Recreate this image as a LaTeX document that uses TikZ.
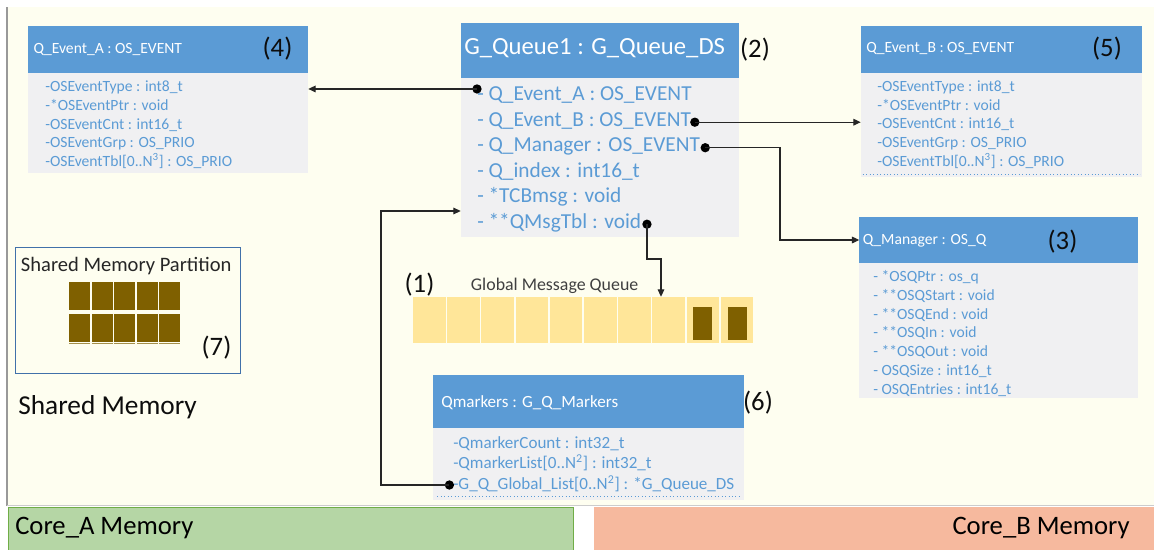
\documentclass[tikz,border=0pt]{standalone}
\usepackage{fontspec}
\setmainfont{Carlito}
\usetikzlibrary{arrows.meta, positioning}

\definecolor{umlblue}{RGB}{91,155,213}
\definecolor{umlgray}{RGB}{240,240,242}
\definecolor{cream}{RGB}{254,254,240}
\definecolor{slotyellow}{RGB}{255,230,153}
\definecolor{slotbrown}{RGB}{127,96,0}
\definecolor{partblue}{RGB}{65,113,170}
\definecolor{coreAgreen}{RGB}{181,214,165}
\definecolor{coreAedge}{RGB}{112,173,71}
\definecolor{coreBsalmon}{RGB}{246,185,158}

\begin{document}
\begin{tikzpicture}[x=0.75pt, y=-0.75pt,
  head/.style={fill=umlblue, inner sep=0, outer sep=0, anchor=north west},
  body/.style={fill=umlgray, inner sep=0, outer sep=0, anchor=north west},
  lbl/.style={inner sep=0, text height=0.64em, text depth=0pt},
  title/.style={lbl, anchor=west, text=white, font=\fontsize{11.7}{14}\selectfont},
  field/.style={lbl, anchor=west, text=umlblue, font=\fontsize{11.7}{14}\selectfont},
  tag/.style={inner sep=0, text=black!95, font=\fontsize{20}{24}\selectfont},
  dot/.style={circle, fill=black, inner sep=0, minimum size=7pt},
  link/.style={-{Triangle[length=5.5pt, width=5pt]}, line width=0.8pt, black!85},
  endline/.style={umlblue, dotted, line width=0.6pt},
  slot/.style={fill=slotyellow, inner sep=0, minimum width=24.4pt, minimum height=34.5pt},
  msg/.style={fill=slotbrown, inner sep=0, minimum width=14.25pt, minimum height=24.75pt},
  blk/.style={fill=slotbrown, inner sep=0, minimum width=15.75pt, minimum height=21pt}
]
\useasboundingbox (0,0) rectangle (1154,550);

% ground
\fill[cream] (7,7) rectangle (1154,505.5);
\draw[black!40, line width=0.8pt] (7,7) -- (7,506);
\draw[black!20, line width=0.8pt] (7,505.5) -- (1154,505.5);

% core memories
\node[fill=coreAgreen, draw=coreAedge, line width=0.6pt, inner sep=0, minimum width=423.75pt, minimum height=32.25pt, anchor=north west] (coreA) at (8,507) {};
\node[fill=coreBsalmon, inner sep=0, minimum width=420pt, minimum height=32.25pt, anchor=north west] (coreB) at (594,507) {};
\node[lbl, anchor=west, font=\fontsize{20}{24}\selectfont] (coreAt) at (15,530) {Core\_A Memory};
\node[lbl, anchor=east, font=\fontsize{20}{24}\selectfont] (coreBt) at (1130,530) {Core\_B Memory};

% shared memory partition (7)
\node[draw=partblue, line width=1pt, inner sep=0, minimum width=168.75pt, minimum height=94.5pt, anchor=north west] (smp) at (14.7,246.7) {};
\node[inner sep=0, text=black!85, font=\fontsize{15.4}{18}\selectfont] (smpt) at (126.2,266) {Shared Memory Partition};
\foreach \r/\y in {0/296,1/327.5}
  \foreach \c in {0,...,4}
    \node[blk] (blk\r\c) at ({79.8+22.5*\c},\y) {};
\foreach \c in {0,...,4}
  \node[blk, minimum height=1.1pt, fill=slotbrown!70] (blk2\c) at ({79.8+22.5*\c},343.6) {};
\node[tag] (smpn) at (216.5,348) {(7)};
\node[lbl, anchor=west, text=black!95, font=\fontsize{20.5}{24}\selectfont] (shm) at (18,410) {Shared Memory};

% Q_Event_A : OS_EVENT (4)
\node[head, minimum width=210pt, minimum height=35.25pt] (evAh) at (28.3,25.7) {};
\node[body, minimum width=210pt, minimum height=75.2pt] (evAb) at (evAh.south west) {};
\node[title] (evAt) at (33.3,49) {Q\_Event\_A : OS\_EVENT};
\node[tag] (evAn) at (277.5,49) {(4)};
\foreach \txt [count=\i] in {-OSEventType : int8\_t, -*OSEventPtr : void, -OSEventCnt : int16\_t,
    -OSEventGrp : OS\_PRIO, {-OSEventTbl[0..N\textsuperscript{3}] : OS\_PRIO}}
  \node[field] (evA\i) at (45,{68.5+18.8*\i}) {\txt};

% G_Queue1 : G_Queue_DS (2)
\node[head, minimum width=208.7pt, minimum height=41.25pt] (gqh) at (460.7,23.3) {};
\node[body, minimum width=208.7pt, minimum height=119.25pt] (gqb) at (gqh.south west) {};
\node[title, font=\fontsize{18.5}{22}\selectfont] (gqt) at (464,50) {G\_Queue1 : G\_Queue\_DS};
\node[tag] (gqn) at (755,50) {(2)};
\foreach \txt [count=\i] in {- Q\_Event\_A : OS\_EVENT, - Q\_Event\_B : OS\_EVENT, - Q\_Manager : OS\_EVENT,
    - Q\_index : int16\_t, - *TCBmsg : void, - **QMsgTbl : void}
  \node[field, font=\fontsize{16}{19}\selectfont] (gq\i) at (477,{71.2+25.5*\i}) {\txt};

% Q_Event_B : OS_EVENT (5)
\node[head, minimum width=211pt, minimum height=35.25pt] (evBh) at (860.7,25.7) {};
\node[body, minimum width=211pt, minimum height=78pt] (evBb) at (evBh.south west) {};
\node[title] (evBt) at (866,48.5) {Q\_Event\_B : OS\_EVENT};
\node[tag] (evBn) at (1107,49) {(5)};
\foreach \txt [count=\i] in {-OSEventType : int8\_t, -*OSEventPtr : void, -OSEventCnt : int16\_t,
    -OSEventGrp : OS\_PRIO, {-OSEventTbl[0..N\textsuperscript{3}] : OS\_PRIO}}
  \node[field] (evB\i) at (877,{68.6+18.7*\i}) {\txt};
\draw[endline] ([xshift=1.5pt, yshift=2pt]evBb.south west) -- ([xshift=-1.5pt, yshift=2pt]evBb.south east);

% Q_Manager : OS_Q (3)
\node[head, minimum width=209.25pt, minimum height=34.5pt] (mgh) at (859.3,217.3) {};
\node[body, minimum width=209.25pt, minimum height=101.25pt] (mgb) at (mgh.south west) {};
\node[title] (mgt) at (862.7,240) {Q\_Manager : OS\_Q};
\node[tag] (mgn) at (1062.5,241.7) {(3)};
\foreach \txt [count=\i] in {- *OSQPtr : os\_q, - **OSQStart : void, - **OSQEnd : void, - **OSQIn : void,
    - **OSQOut : void, - OSQSize : int16\_t, - OSQEntries : int16\_t}
  \node[field] (mg\i) at (873,{258.5+18.8*\i}) {\txt};

% Qmarkers : G_Q_Markers (6)
\node[head, minimum width=233pt, minimum height=40pt] (qmh) at (433.3,375) {};
\node[body, minimum width=233pt, minimum height=54pt] (qmb) at (qmh.south west) {};
\node[title, font=\fontsize{12.8}{15}\selectfont] (qmt) at (441,403) {Qmarkers : G\_Q\_Markers};
\node[tag] (qmn) at (758,403) {(6)};
\foreach \txt [count=\i] in {-QmarkerCount : int32\_t, {-QmarkerList[0..N\textsuperscript{2}] : int32\_t},
    {-G\_Q\_Global\_List[0..N\textsuperscript{2}] : *G\_Queue\_DS}}
  \node[field, font=\fontsize{12.8}{15}\selectfont] (qm\i) at (453,{423.5+20.5*\i}) {\txt};
\draw[endline] ([xshift=3pt, yshift=3.2pt]qmb.south west) -- ([xshift=-3pt, yshift=3.2pt]qmb.south east);

% global message queue (1)
\node[tag] (mqn) at (419.5,285) {(1)};
\node[lbl, anchor=west, text=black!75, font=\fontsize{13.4}{16}\selectfont] (mqt) at (470.7,286) {Global Message Queue};
\foreach \i in {0,...,9}
  \node[slot] (mq\i) at ({429.25+34.2*\i},320) {};
\node[msg] (msg1) at (702.85,323.5) {};
\node[msg] (msg2) at (737.05,323.5) {};

% pointers
\node[dot] (dA) at ([yshift=5.8pt]gq1.west) {};
\node[dot, right=-1pt of gq2] (dB) {};
\node[dot, right=0pt of gq3] (dM) {};
\node[dot, right=0.5pt of gq6] (dQ) {};
\node[dot, left=-1pt of qm3] (dG) {};
\coordinate (bendM) at (780,240);
\coordinate (bendQ) at (661,259);
\coordinate (bendG) at (381,211);

\draw[link] (dA.center) -- (dA.center -| evAb.east);
\draw[link] (dB.center) -- (dB.center -| evBb.west);
\draw[link] (dM.center) -| (bendM) -- (bendM -| mgh.west);
\draw[link] (dQ.center) |- (bendQ) -- (bendQ |- mq7.north);
\draw[link] (dG.center) -| (bendG) -- (bendG -| gqb.west);

\end{tikzpicture}
\end{document}
